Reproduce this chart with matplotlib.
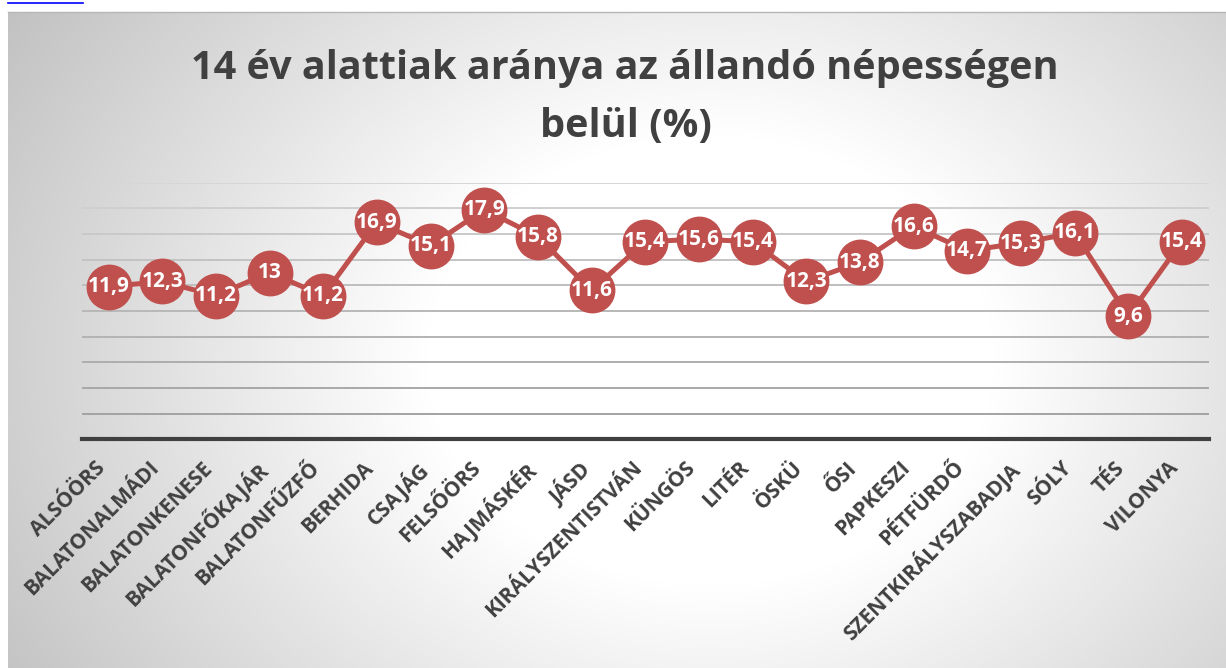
import numpy as np
import matplotlib
matplotlib.use('Agg')
import matplotlib.pyplot as plt
from matplotlib.lines import Line2D
from matplotlib.transforms import ScaledTranslation

plt.rcParams['font.family'] = ['Open Sans', 'DejaVu Sans']

TITLE_1 = '14 év alattiak aránya az állandó népességen'
TITLE_2 = 'belül (%)'
SETTLEMENTS = ['ALSÓÖRS', 'BALATONALMÁDI', 'BALATONKENESE', 'BALATONFŐKAJÁR',
               'BALATONFŰZFŐ', 'BERHIDA', 'CSAJÁG', 'FELSŐÖRS', 'HAJMÁSKÉR', 'JÁSD',
               'KIRÁLYSZENTISTVÁN', 'KÜNGÖS', 'LITÉR', 'ÖSKÜ', 'ŐSI', 'PAPKESZI',
               'PÉTFÜRDŐ', 'SZENTKIRÁLYSZABADJA', 'SÓLY', 'TÉS', 'VILONYA']
SHARE = [11.9, 12.3, 11.2, 13, 11.2, 16.9, 15.1, 17.9, 15.8, 11.6, 15.4,
         15.6, 15.4, 12.3, 13.8, 16.6, 14.7, 15.3, 16.1, 9.6, 15.4]
GRID_VALUES = [2, 4, 6, 8, 10, 12, 14, 16, 18, 20]

W, H = 1226, 668
RED = '#c0504d'
DARK = '#404040'

fig = plt.figure(figsize=(W / 100, H / 100), dpi=100, facecolor='white')

# chart-area background (radial grey gradient)
bg = fig.add_axes([8 / W, 0, 1 - 8 / W, (H - 12) / H], zorder=-5)
yy, xx = np.mgrid[12:H, 8:W]
t = np.sqrt(((xx - 710) / 630.0) ** 2 + ((yy - 360) / 500.0) ** 2)
level = 255 - 64 * np.clip((t - 0.45) / 0.9, 0, 1)
bg.imshow(np.dstack([level, level, level]) / 255.0, aspect='auto',
          extent=(0, 1, 0, 1), interpolation='bilinear')
bg.set_axis_off()
fig.add_artist(Line2D([8 / W, 1], [(H - 12) / H] * 2, color='#b5b5b5', lw=1))
fig.add_artist(Line2D([8 / W, 83 / W], [(H - 3) / H] * 2, color='#0000ff', lw=1.2))

# plot area
left, right = 81.7, 1208.7
top, bottom = 182.7, 439.3
ax = fig.add_axes([left / W, (H - bottom) / H, (right - left) / W, (bottom - top) / H])
ax.set_facecolor('none')
ax.set_xlim(-0.5, len(SETTLEMENTS) - 0.5)
ax.set_ylim(0, 20)
for s in ax.spines.values():
    s.set_visible(False)

grid_cols = ['#a3a3a3', '#a8a8a8', '#adadad', '#b3b3b3', '#b8b8b8',
             '#bebebe', '#c3c3c3', '#c9c9c9', '#cfcfcf', '#d6d6d6']
for v, c in zip(GRID_VALUES, grid_cols):
    ax.axhline(v, color=c, lw=1.4, zorder=1)
ax.axhline(0, color=DARK, lw=3, zorder=2, clip_on=False)

x = np.arange(len(SETTLEMENTS))
ax.plot(x, SHARE, color=RED, lw=3.6, marker='o', ms=32, mfc=RED, mec=RED,
        zorder=3, clip_on=False)
for xi, v in zip(x, SHARE):
    ax.text(xi, v, f'{v:g}'.replace('.', ','), ha='center', va='center',
            color='white', fontsize=15, fontweight='bold', zorder=4)

ax.set_yticks([])
ax.set_xticks(x)
ax.set_xticklabels(SETTLEMENTS, rotation=45, ha='right', va='top',
                   rotation_mode='anchor', fontsize=15, fontweight='bold',
                   color=DARK)
ax.tick_params(axis='x', length=0, pad=13)
shift = ScaledTranslation(-14 / 100, 0, fig.dpi_scale_trans)
for lab in ax.get_xticklabels():
    lab.set_transform(lab.get_transform() + shift)

# title, fitted to the reference line width
t1 = fig.text(625 / W, (H - 79.3) / H, TITLE_1, ha='center', va='baseline',
              fontsize=30, fontweight='bold', color=DARK)
r = fig.canvas.get_renderer()
size = 30 * 868 / t1.get_window_extent(r).width
t1.set_fontsize(size)
fig.text(626 / W, (H - 136.7) / H, TITLE_2, ha='center', va='baseline',
         fontsize=size, fontweight='bold', color=DARK)

fig.savefig('out.png', dpi=100, facecolor='white')
